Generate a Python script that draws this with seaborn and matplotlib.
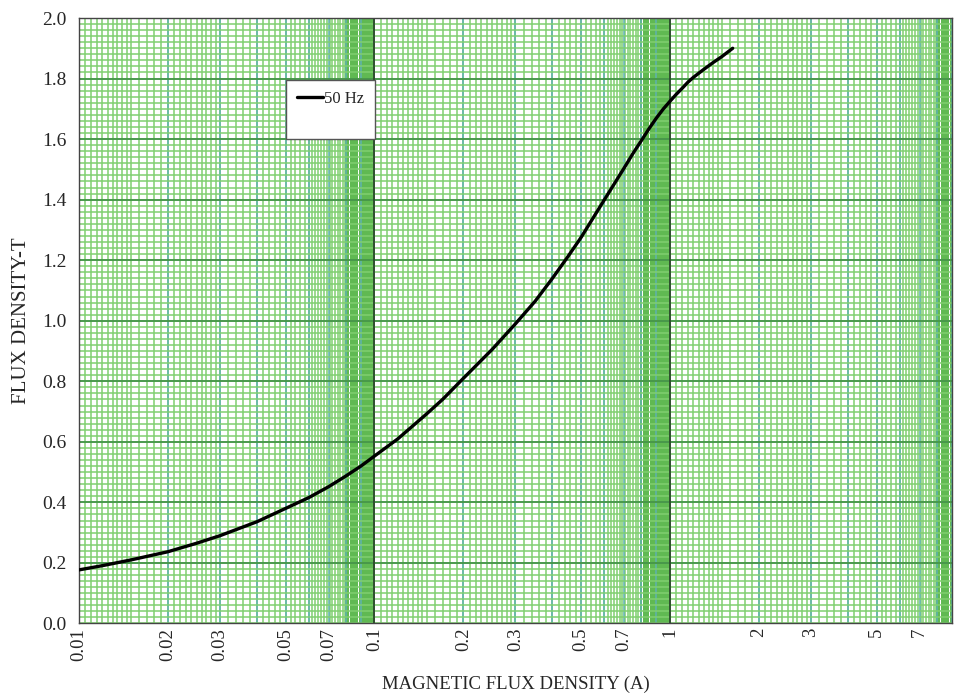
import matplotlib
matplotlib.use('Agg')
import matplotlib.pyplot as plt
from matplotlib.lines import Line2D
import numpy as np
import pandas as pd
import seaborn as sns

# curve (current in A vs flux density in T)
current = [0.01, 0.012, 0.015, 0.02, 0.025, 0.03, 0.04, 0.05, 0.06, 0.07, 0.08, 0.09, 0.1,
           0.12, 0.15, 0.17, 0.2, 0.25, 0.3, 0.35, 0.4, 0.45, 0.5, 0.6, 0.7, 0.75, 0.8, 0.85,
           0.9, 0.95, 1.0, 1.05, 1.1, 1.15, 1.2, 1.3, 1.4, 1.5, 1.63]
flux = [0.177, 0.191, 0.21, 0.237, 0.265, 0.29, 0.336, 0.38, 0.416, 0.452, 0.487, 0.52, 0.553,
        0.61, 0.692, 0.74, 0.81, 0.905, 0.99, 1.065, 1.14, 1.21, 1.275, 1.40, 1.505, 1.553,
        1.595, 1.635, 1.67, 1.70, 1.725, 1.748, 1.768, 1.788, 1.804, 1.83, 1.853, 1.873, 1.90]
x_ticks = [0.01, 0.02, 0.03, 0.05, 0.07, 0.1, 0.2, 0.3, 0.5, 0.7, 1, 2, 3, 5, 7]
x_tick_labels = ['0.01', '0.02', '0.03', '0.05', '0.07', '0.1', '0.2', '0.3', '0.5', '0.7',
                 '1', '2', '3', '5', '7']
y_ticks = [0.0, 0.2, 0.4, 0.6, 0.8, 1.0, 1.2, 1.4, 1.6, 1.8, 2.0]

df = pd.DataFrame({'I': current, 'B': flux})

sns.set_style('white')
plt.rcParams['font.family'] = ['Liberation Serif', 'DejaVu Serif']

fig = plt.figure(figsize=(9.56, 6.95), dpi=100)
ax = fig.add_axes([0.0826, 0.1029, 0.9132, 0.8712])
ax.set_xscale('log')
ax.set_xlim(0.01, 9.0)
ax.set_ylim(0, 2.0)

# graph-paper grid: light lines, getting denser and darker towards the end of each decade
green = '#80cf70'
base = np.concatenate([np.arange(1, 1.5, 0.05), np.arange(1.5, 3, 0.1),
                       np.arange(3, 6, 0.2), np.arange(6, 8, 0.15)])
band = np.arange(8, 10, 0.15)
decades = (0.01, 0.1, 1)
ax.vlines(np.concatenate([base * d for d in decades]), 0, 2, colors=green, lw=1.1, zorder=0)
ax.vlines(np.concatenate([band * d for d in decades]), 0, 2, colors='#5cb84e', lw=1.4, zorder=0)
ax.vlines(np.concatenate([np.arange(2, 10) * d for d in decades]), 0, 2,
          colors='#5fb2b0', lw=1.1, zorder=0)
ax.hlines(np.arange(0, 2.001, 0.02), 0.01, 10, colors=green, lw=1.1, zorder=0)
ax.hlines(np.arange(0.2, 2.0, 0.2), 0.01, 10, colors='#3f8f45', lw=1.2, zorder=0)
ax.vlines([0.1, 1], 0, 2, colors='#2f4f2f', lw=1.4, zorder=1)

sns.lineplot(data=df, x='I', y='B', ax=ax, color='black', lw=2.4, zorder=3, legend=False)

ax.set_xticks(x_ticks)
ax.set_xticklabels(x_tick_labels, rotation=90, fontsize=13.5)
ax.xaxis.set_minor_locator(matplotlib.ticker.NullLocator())
ax.set_yticks(y_ticks)
ax.set_yticklabels([f'{v:.1f}' for v in y_ticks], fontsize=14)
ax.tick_params(axis='x', length=0, pad=3)
ax.tick_params(axis='y', length=0, pad=9)
ax.set_xlabel('MAGNETIC FLUX DENSITY (A)', fontsize=13.5, labelpad=11)
ax.set_ylabel('FLUX DENSITY-T', fontsize=15, labelpad=8)
for s in ax.spines.values():
    s.set_color('#444444')
    s.set_linewidth(1.0)

blank = Line2D([], [], color='none')
leg = ax.legend([Line2D([], [], color='black', lw=2.4), blank], ['50 Hz', ' '],
                loc='upper left', bbox_to_anchor=(0.237, 0.8976), fontsize=12,
                fancybox=False, framealpha=1, edgecolor='#555555',
                handlelength=1.55, handletextpad=0.1, borderpad=0.65, labelspacing=0.3,
                borderaxespad=0)
leg.get_frame().set_linewidth(1.0)
leg.set_zorder(5)

fig.savefig('out.png', dpi=100)
